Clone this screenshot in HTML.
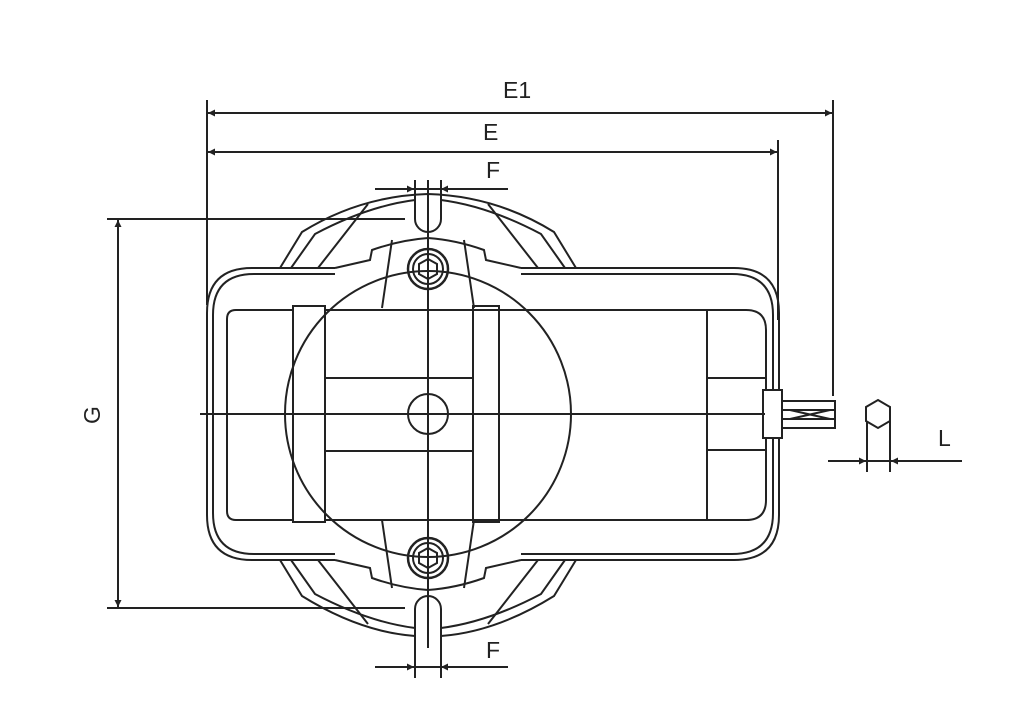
<!DOCTYPE html>
<html><head><style>body{margin:0;background:#fff}svg{display:block}text{font-family:"Liberation Sans",sans-serif;font-size:23px;fill:#222}</style></head>
<body>
<svg width="1024" height="719" viewBox="0 0 1024 719" xmlns="http://www.w3.org/2000/svg">
<defs>
<marker id="a" viewBox="0 0 10 10" refX="10" refY="5" markerWidth="16" markerHeight="7" orient="auto-start-reverse" markerUnits="userSpaceOnUse"><path d="M0,0L10,5L0,10z" fill="#222"/></marker>
</defs>
<g stroke="#222" stroke-width="2" fill="none">
<line x1="207" y1="100" x2="207" y2="305"/>
<line x1="833" y1="100" x2="833" y2="396"/>
<line x1="778" y1="140" x2="778" y2="320"/>
<line x1="208" y1="113" x2="832" y2="113" marker-start="url(#a)" marker-end="url(#a)"/>
<line x1="208" y1="152" x2="777" y2="152" marker-start="url(#a)" marker-end="url(#a)"/>
<line x1="107" y1="219" x2="405" y2="219"/>
<line x1="107" y1="608" x2="405" y2="608"/>
<line x1="118" y1="220" x2="118" y2="607" marker-start="url(#a)" marker-end="url(#a)"/>
<line x1="375" y1="189" x2="508" y2="189"/>
<line x1="391" y1="189" x2="414" y2="189" marker-end="url(#a)"/>
<line x1="462" y1="189" x2="441" y2="189" marker-end="url(#a)"/>
<path d="M415,180V219a13,13 0 0 0 26,0V180"/>
<line x1="375" y1="667" x2="508" y2="667"/>
<line x1="391" y1="667" x2="414" y2="667" marker-end="url(#a)"/>
<line x1="462" y1="667" x2="441" y2="667" marker-end="url(#a)"/>
<path d="M415,678V609a13,13 0 0 1 26,0V678"/>
<path d="M280,268 L302,232 Q360,196 428,194 Q496,196 554,232 L576,268"/>
<path d="M291,268 L315,234 Q368,206 415,200"/>
<path d="M441,200 Q488,206 541,234 L565,268"/>
<path d="M318,268 L368,204"/>
<path d="M538,268 L488,204"/>
<path d="M335,268 L370,260 L372,250 Q400,240 428,238 Q456,240 484,250 L486,260 L521,268"/>
<path d="M280,560 L302,596 Q360,632 415,636 M441,636 Q496,632 554,596 L576,560"/>
<path d="M291,560 L315,594 Q368,622 415,628"/>
<path d="M441,628 Q488,622 541,594 L565,560"/>
<path d="M318,560 L368,624"/>
<path d="M538,560 L488,624"/>
<path d="M335,560 L370,568 L372,578 Q400,588 428,590 Q456,588 484,578 L486,568 L521,560"/>
<path d="M335,268 H252 Q207,268 207,313 V515 Q207,560 252,560 H335"/>
<path d="M335,274 H254 Q213,274 213,315 V513 Q213,554 254,554 H335"/>
<path d="M521,268 H734 Q779,268 779,313 V515 Q779,560 734,560 H521"/>
<path d="M521,274 H732 Q773,274 773,315 V513 Q773,554 732,554 H521"/>
<path d="M293,310 H236 Q227,310 227,319 V511 Q227,520 236,520 H293"/>
<rect x="293" y="306" width="32" height="216"/>
<line x1="325" y1="310" x2="707" y2="310"/>
<line x1="325" y1="520" x2="707" y2="520"/>
<rect x="473" y="306" width="26" height="216"/>
<line x1="325" y1="378" x2="473" y2="378"/>
<line x1="325" y1="451" x2="473" y2="451"/>
<path d="M499,310 H746 Q766,310 766,330 V500 Q766,520 746,520 H499"/>
<line x1="707" y1="310" x2="707" y2="520"/>
<path d="M707,378 H766 M707,450 H766"/>
<rect x="763" y="390" width="19" height="48" fill="#fff"/>
<rect x="782" y="401" width="53" height="27"/>
<path d="M782,410 H835 M782,419 H835 M790,410 L830,419 M790,419 L830,410"/>
<circle cx="428" cy="414" r="143"/>
<circle cx="428" cy="414" r="20"/>
<path d="M382,308 L392,240 M474,308 L464,240 M382,520 L392,588 M474,520 L464,588"/>
<circle cx="428" cy="269" r="20" stroke-width="2.5"/><circle cx="428" cy="269" r="15"/>
<path d="M428,259 l9,5 v10 l-9,5 l-9,-5 v-10z"/>
<circle cx="428" cy="558" r="20" stroke-width="2.5"/><circle cx="428" cy="558" r="15"/>
<path d="M428,548 l9,5 v10 l-9,5 l-9,-5 v-10z"/>
<line x1="200" y1="414" x2="765" y2="414"/>
<line x1="428" y1="180" x2="428" y2="648"/>
<path d="M878,400 l12,7 v14 l-12,7 l-12,-7 v-14z"/>
<path d="M867,421 V472 M890,421 V472"/>
<line x1="828" y1="461" x2="962" y2="461"/>
<line x1="845" y1="461" x2="866" y2="461" marker-end="url(#a)"/>
<line x1="912" y1="461" x2="891" y2="461" marker-end="url(#a)"/>
</g>
<text x="503" y="98">E1</text>
<text x="483" y="140">E</text>
<text x="486" y="178">F</text>
<text x="486" y="658">F</text>
<text x="938" y="446">L</text>
<text x="0" y="0" transform="translate(100,424) rotate(-90)">G</text>
</svg>
</body></html>
